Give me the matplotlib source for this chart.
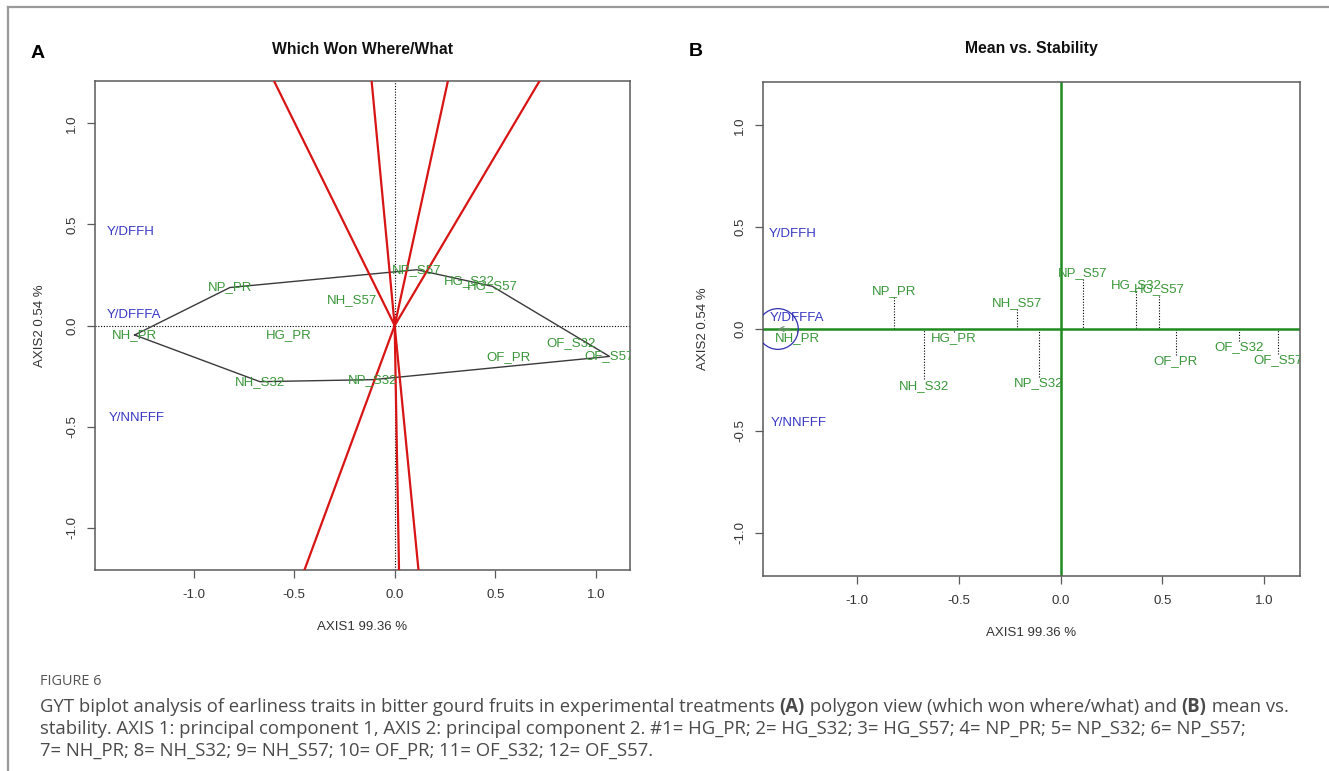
import numpy as np
import matplotlib
matplotlib.use("Agg")
import matplotlib.pyplot as plt
from matplotlib.lines import Line2D
from matplotlib.patches import Circle

# ---------------- data ----------------
genotypes = ["HG_PR", "HG_S32", "HG_S57", "NP_PR", "NP_S32", "NP_S57",
             "NH_PR", "NH_S32", "NH_S57", "OF_PR", "OF_S32", "OF_S57"]
gen_x = [-0.525, 0.370, 0.485, -0.819, -0.108, 0.110,
         -1.293, -0.670, -0.214, 0.565, 0.876, 1.068]
gen_y = [-0.047, 0.218, 0.194, 0.188, -0.268, 0.276,
         -0.047, -0.278, 0.126, -0.156, -0.088, -0.153]

environments = ["Y/DFFH", "Y/DFFFA", "Y/NNFFF"]
env_x = [-1.313, -1.294, -1.283]
env_y = [0.465, 0.053, -0.460]

aec_x = -1.387          # average-environment coordinate (panel B)
aec_y = 0.0
aec_radius = 0.10

tick_values = [-1.0, -0.5, 0.0, 0.5, 1.0]
tick_labels = ["-1.0", "-0.5", "0.0", "0.5", "1.0"]

x_label = "AXIS1 99.36 %"
y_label = "AXIS2 0.54 %"
title_a = "Which Won Where/What"
title_b = "Mean vs. Stability"

caption_head = "FIGURE 6"
caption_lines = [
    [("GYT biplot analysis of earliness traits in bitter gourd fruits in experimental treatments ", "normal"),
     ("(A)", "bold"), (" polygon view (which won where/what) and ", "normal"),
     ("(B)", "bold"), (" mean vs.", "normal")],
    [("stability. AXIS 1: principal component 1, AXIS 2: principal component 2. #1= HG_PR; 2= HG_S32; "
      "3= HG_S57; 4= NP_PR; 5= NP_S32; 6= NP_S57;", "normal")],
    [("7= NH_PR; 8= NH_S32; 9= NH_S57; 10= OF_PR; 11= OF_S32; 12= OF_S57.", "normal")],
]

# ---------------- style ----------------
W, H = 1329, 771
GREEN_TXT = "#3a963a"
BLUE_TXT = "#3838c4"
RED = "#d81414"
GREEN_LINE = "#1f8a1f"
AX_COL = "#5a5a5a"
FONT = "Liberation Sans"

fig = plt.figure(figsize=(W / 100, H / 100), dpi=100)
fig.patch.set_facecolor("white")


def px_axes(l, t, r, b):
    return [l / W, 1 - b / H, (r - l) / W, (b - t) / H]


axA = fig.add_axes(px_axes(95, 81, 630, 570))
axB = fig.add_axes(px_axes(763, 82, 1300, 576))


def style_axes(ax, xlim, ylim):
    ax.set_xlim(*xlim)
    ax.set_ylim(*ylim)
    for s in ax.spines.values():
        s.set_color(AX_COL)
        s.set_linewidth(1.1)
    ax.set_xticks(tick_values)
    ax.set_xticklabels(tick_labels, fontfamily=FONT, fontsize=9.5, color="#333333")
    ax.set_yticks(tick_values)
    ax.set_yticklabels(tick_labels, fontfamily=FONT, fontsize=9.5, color="#333333")
    ax.tick_params(axis="both", direction="out", length=6, width=0.9, color=AX_COL)
    ax.tick_params(axis="x", pad=8)
    ax.tick_params(axis="y", pad=6)
    for lab in ax.get_yticklabels():
        lab.set_rotation(90)
        lab.set_va("center")
    ax.set_xlabel(x_label, fontfamily=FONT, fontsize=9.5, color="#333333", va="center")
    ax.set_ylabel(y_label, fontfamily=FONT, fontsize=9.5, color="#333333", va="center")


def convex_hull(pts):
    pts = sorted(pts)
    def cross(o, a, b):
        return (a[0] - o[0]) * (b[1] - o[1]) - (a[1] - o[1]) * (b[0] - o[0])
    lower, upper = [], []
    for p in pts:
        while len(lower) >= 2 and cross(lower[-2], lower[-1], p) <= 0:
            lower.pop()
        lower.append(p)
    for p in reversed(pts):
        while len(upper) >= 2 and cross(upper[-2], upper[-1], p) <= 0:
            upper.pop()
        upper.append(p)
    return lower[:-1] + upper[:-1]


# ---------------- Panel A ----------------
style_axes(axA, (-1.49, 1.17), (-1.21, 1.21))
axA.xaxis.set_label_coords(0.5, -0.1166)
axA.yaxis.set_label_coords(-0.1028, 0.5)
axA.axhline(0, color="black", lw=0.8, ls=(0, (1, 1.5)), zorder=1)
axA.axvline(0, color="black", lw=0.8, ls=(0, (1, 1.5)), zorder=1)

hull = convex_hull(list(zip(gen_x, gen_y)))
hx = [p[0] for p in hull] + [hull[0][0]]
hy = [p[1] for p in hull] + [hull[0][1]]
axA.plot(hx, hy, color="#3a3a3a", lw=1.0, zorder=2)

for i in range(len(hull)):
    p = np.array(hull[i])
    q = np.array(hull[(i + 1) % len(hull)])
    d = q - p
    f = p - (p @ d) / (d @ d) * d
    axA.plot([0, f[0] * 60], [0, f[1] * 60], color=RED, lw=1.6, zorder=3)

for name, x, y in zip(genotypes, gen_x, gen_y):
    axA.text(x, y, name, color=GREEN_TXT, fontsize=9.5, fontfamily=FONT,
             ha="center", va="center", clip_on=True, zorder=4)
for name, x, y in zip(environments, env_x, env_y):
    axA.text(x, y, name, color=BLUE_TXT, fontsize=9.5, fontfamily=FONT,
             ha="center", va="center", clip_on=True, zorder=4)

# ---------------- Panel B ----------------
style_axes(axB, (-1.46, 1.175), (-1.213, 1.213))
axB.xaxis.set_label_coords(0.5, -0.1154)
axB.yaxis.set_label_coords(-0.1117, 0.5)
axB.axhline(0, color=GREEN_LINE, lw=1.8, zorder=2)
axB.axvline(0, color=GREEN_LINE, lw=1.8, zorder=2)

gap = 0.03
for x, y in zip(gen_x, gen_y):
    y0 = y - np.sign(y) * gap
    axB.plot([x, x], [y0, 0], color="black", lw=0.8, ls=(0, (1, 1.5)), zorder=1)

for name, x, y in zip(genotypes, gen_x, gen_y):
    axB.text(x, y, name, color=GREEN_TXT, fontsize=9.5, fontfamily=FONT,
             ha="center", va="center", clip_on=True, zorder=4)
for name, x, y in zip(environments, env_x, env_y):
    axB.text(x, y, name, color=BLUE_TXT, fontsize=9.5, fontfamily=FONT,
             ha="center", va="center", clip_on=True, zorder=4)

axB.add_patch(Circle((aec_x, aec_y), aec_radius, fill=False, ec="#3030b0", lw=0.9, zorder=5))
axB.annotate("", xy=(aec_x, aec_y), xytext=(aec_x + 0.06, aec_y),
             arrowprops=dict(arrowstyle="->", color="#6b8f6b", lw=0.8,
                             mutation_scale=9, shrinkA=0, shrinkB=0), zorder=5)

# ---------------- titles & panel letters ----------------
fig.text((95 + 630) / 2 / W, 1 - 49 / H, title_a, ha="center", va="center",
         fontfamily=FONT, fontweight="bold", fontsize=11.3, color="#111111")
fig.text((763 + 1300) / 2 / W, 1 - 49 / H, title_b, ha="center", va="center",
         fontfamily=FONT, fontweight="bold", fontsize=11.3, color="#111111")
fig.text(37.5 / W, 1 - 53 / H, "A", ha="center", va="center",
         fontfamily=FONT, fontweight="bold", fontsize=14, color="black")
fig.text(695.5 / W, 1 - 52 / H, "B", ha="center", va="center",
         fontfamily=FONT, fontweight="bold", fontsize=14, color="black")

# ---------------- frame ----------------
fig.add_artist(Line2D([8 / W, 8 / W], [0, 1 - 7 / H], transform=fig.transFigure,
                      color="#9a9a9a", lw=1.6))
fig.add_artist(Line2D([8 / W, 1], [1 - 7 / H, 1 - 7 / H], transform=fig.transFigure,
                      color="#9a9a9a", lw=1.6))

# ---------------- caption ----------------
CAP_FONT = "Open Sans"
renderer = fig.canvas.get_renderer()

# fit first caption line width to ~1250 px
probe_size = 10.0
total = 0.0
for txt, wt in caption_lines[0]:
    t = fig.text(0, 0, txt, fontfamily=CAP_FONT, fontsize=probe_size, fontweight=wt)
    total += t.get_window_extent(renderer).width
    t.remove()
cap_size = probe_size * 1250.0 / total

fig.text(40 / W, 1 - 685 / H, caption_head, fontfamily=CAP_FONT, fontsize=cap_size * 0.78,
         color="#555555", va="baseline", ha="left")

baselines = [712, 734, 756]
for runs, base in zip(caption_lines, baselines):
    xpx = 40.0
    for txt, wt in runs:
        t = fig.text(xpx / W, 1 - base / H, txt, fontfamily=CAP_FONT, fontsize=cap_size,
                     fontweight=wt, color="#4a4a4a", va="baseline", ha="left")
        xpx += t.get_window_extent(renderer).width

fig.savefig("out.png", dpi=100, facecolor="white")
